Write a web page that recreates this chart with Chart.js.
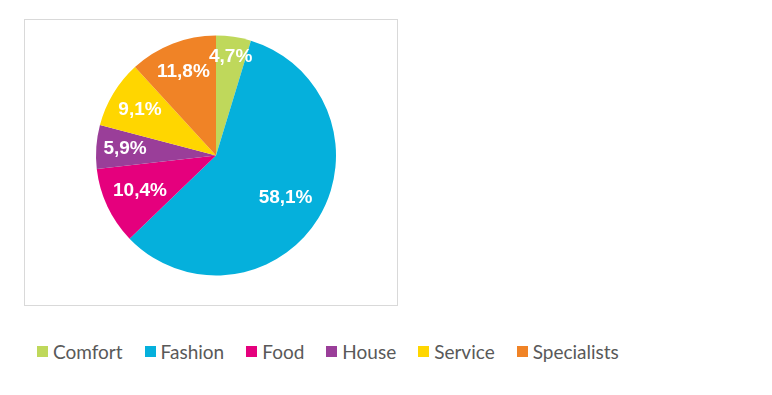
<!DOCTYPE html>
<html>
<head>
<meta charset="utf-8">
<script src="https://cdn.jsdelivr.net/npm/chart.js@4"></script>
<style>
  html, body { margin: 0; padding: 0; background: #fff; }
  body { width: 772px; height: 395px; position: relative; overflow: hidden; }
  #box {
    position: absolute; left: 24px; top: 19px;
    width: 374px; height: 287px;
    border: 1px solid #d9d9d9; box-sizing: border-box;
  }
  #box canvas { display: block; }
  #legend {
    position: absolute; left: 37px; top: 340px;
    display: flex; align-items: center;
    font-family: "Lato", "DejaVu Sans", sans-serif; font-size: 19px; color: #595959;
  }
  .item { display: flex; align-items: center; margin-right: 22px; }
  .sw { width: 11px; height: 11px; margin-right: 5px; }
</style>
</head>
<body>
<div id="box"><canvas id="pie" width="372" height="285"></canvas></div>
<div id="legend"></div>
<script>
const categorias = ["Comfort", "Fashion", "Food", "House", "Service", "Specialists"];
const valores = [4.7, 58.1, 10.4, 5.9, 9.1, 11.8];
const cores = ["#bfd85b", "#05b0dc", "#e5007d", "#9a3e99", "#ffd600", "#f08326"];

// posicao radial de cada rotulo (fracao do raio)
const raioRotulo = [0.83, 0.68, 0.70, 0.76, 0.74, 0.75];

const rotulosPlugin = {
  id: "rotulos",
  afterDatasetsDraw(chart) {
    const ctx = chart.ctx;
    const meta = chart.getDatasetMeta(0);
    ctx.save();
    ctx.fillStyle = "#ffffff";
    ctx.font = "bold 19px 'Liberation Sans', Arial, sans-serif";
    ctx.textAlign = "center";
    ctx.textBaseline = "middle";
    meta.data.forEach((arc, i) => {
      const p = arc.getProps(["x", "y", "startAngle", "endAngle", "outerRadius"], true);
      const meio = (p.startAngle + p.endAngle) / 2;
      const r = p.outerRadius * raioRotulo[i];
      const txt = valores[i].toFixed(1).replace(".", ",") + "%";
      ctx.fillText(txt, p.x + Math.cos(meio) * r, p.y + Math.sin(meio) * r);
    });
    ctx.restore();
  }
};

new Chart(document.getElementById("pie"), {
  type: "pie",
  data: {
    labels: categorias,
    datasets: [{ data: valores, backgroundColor: cores, borderWidth: 0 }]
  },
  options: {
    responsive: false,
    animation: false,
    layout: { padding: { left: 71, right: 61, top: 15, bottom: 29 } },
    plugins: { legend: { display: false }, tooltip: { enabled: false } }
  },
  plugins: [rotulosPlugin]
});

const leg = document.getElementById("legend");
categorias.forEach((c, i) => {
  const it = document.createElement("div");
  it.className = "item";
  it.innerHTML = `<span class="sw" style="background:${cores[i]}"></span><span>${c}</span>`;
  leg.appendChild(it);
});
</script>
</body>
</html>
